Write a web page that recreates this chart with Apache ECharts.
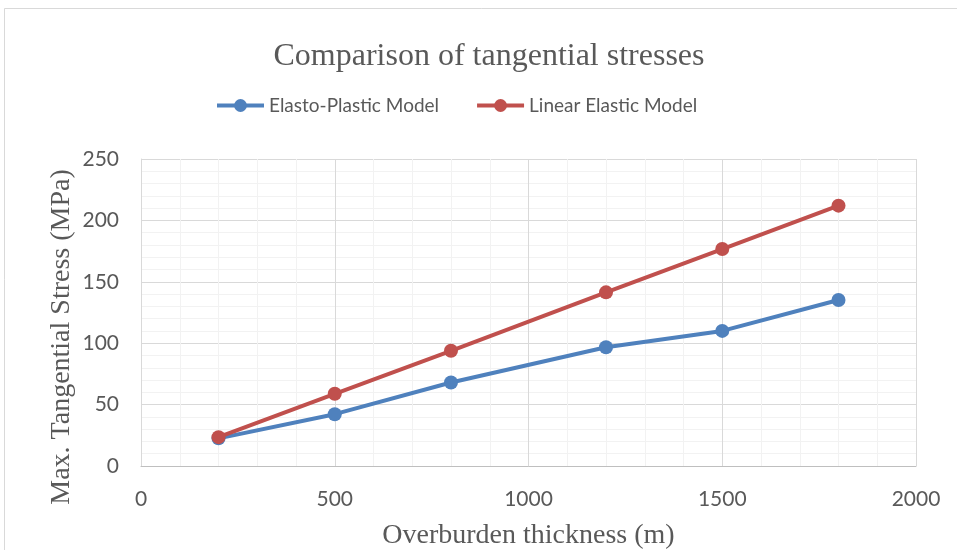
<!DOCTYPE html>
<html>
<head>
<meta charset="utf-8">
<script src="https://cdn.jsdelivr.net/npm/echarts@6/dist/echarts.min.js"></script>
<style>
  html, body { margin: 0; padding: 0; background: #fff; }
  #chart { width: 957px; height: 550px; }
</style>
</head>
<body>
<div id="chart"></div>
<script>
// Overburden thickness (m)
const thickness = [200, 500, 800, 1200, 1500, 1800];
// Max. tangential stress (MPa) for each model
const elastoPlastic = [22.5, 42.2, 68.0, 96.7, 110.0, 135.2];
const linearElastic = [23.5, 58.8, 93.8, 141.4, 176.7, 212.0];
const seriesNames = ['Elasto-Plastic Model', 'Linear Elastic Model'];

const textGrey = '#595959';
const serif = '"Liberation Serif", "Times New Roman", serif';
const sans = 'Lato, "Noto Sans", sans-serif';

const toPairs = ys => thickness.map((x, i) => [x, ys[i]]);

const chart = echarts.init(document.getElementById('chart'), null, { renderer: 'canvas' });

chart.setOption({
  animation: false,
  backgroundColor: '#fff',
  title: {
    text: 'Comparison of tangential stresses',
    left: 489, textAlign: 'center', top: 41, padding: 0,
    textStyle: { fontFamily: serif, fontSize: 32, fontWeight: 'normal', color: textGrey }
  },
  legend: {
    top: 96, left: 215, padding: 0,
    itemWidth: 47, itemHeight: 16, itemGap: 36,
    lineStyle: { width: 4 },
    textStyle: { fontFamily: sans, fontSize: 19, color: textGrey },
    data: seriesNames
  },
  grid: {
    left: 141, right: 41, top: 159, bottom: 84,
    containLabel: false, outerBoundsMode: 'none'
  },
  xAxis: {
    type: 'value', min: 0, max: 2000, interval: 500,
    name: 'Overburden thickness (m)', nameLocation: 'middle', nameGap: 56,
    nameTextStyle: { fontFamily: serif, fontSize: 28, color: textGrey },
    axisLine: { show: true, lineStyle: { color: '#BFBFBF', width: 1 } },
    axisTick: { show: false },
    axisLabel: { margin: 23, fontFamily: sans, fontSize: 21, color: textGrey, formatter: v => String(v) },
    splitLine: { show: true, lineStyle: { color: '#D9D9D9', width: 1 } },
    minorTick: { show: false, splitNumber: 5 },
    minorSplitLine: { show: true, lineStyle: { color: '#F2F2F2', width: 1 } }
  },
  yAxis: {
    type: 'value', min: 0, max: 250, interval: 50,
    axisLine: { show: true, lineStyle: { color: '#D9D9D9', width: 1 } },
    axisTick: { show: false },
    axisLabel: { margin: 22, fontFamily: sans, fontSize: 21, color: textGrey, formatter: v => String(v) },
    splitLine: { show: true, lineStyle: { color: '#D9D9D9', width: 1 } },
    minorTick: { show: false, splitNumber: 5 },
    minorSplitLine: { show: true, lineStyle: { color: '#F2F2F2', width: 1 } }
  },
  graphic: [
    {
      type: 'rect', silent: true, z: -1,
      shape: { x: 4.5, y: 8.5, width: 1000, height: 1000 },
      style: { fill: 'none', stroke: '#D9D9D9', lineWidth: 1 }
    },
    {
      type: 'text', silent: true,
      x: 62, y: 337, rotation: Math.PI / 2,
      style: {
        text: 'Max. Tangential Stress (MPa)',
        font: '28px ' + serif, fill: textGrey,
        align: 'center', verticalAlign: 'middle'
      }
    }
  ],
  series: [
    {
      name: seriesNames[0], type: 'line', data: toPairs(elastoPlastic),
      symbol: 'circle', symbolSize: 14,
      lineStyle: { color: '#4F81BD', width: 4 },
      itemStyle: { color: '#4F81BD' }
    },
    {
      name: seriesNames[1], type: 'line', data: toPairs(linearElastic),
      symbol: 'circle', symbolSize: 14,
      lineStyle: { color: '#C0504D', width: 4 },
      itemStyle: { color: '#C0504D' }
    }
  ]
});
</script>
</body>
</html>
